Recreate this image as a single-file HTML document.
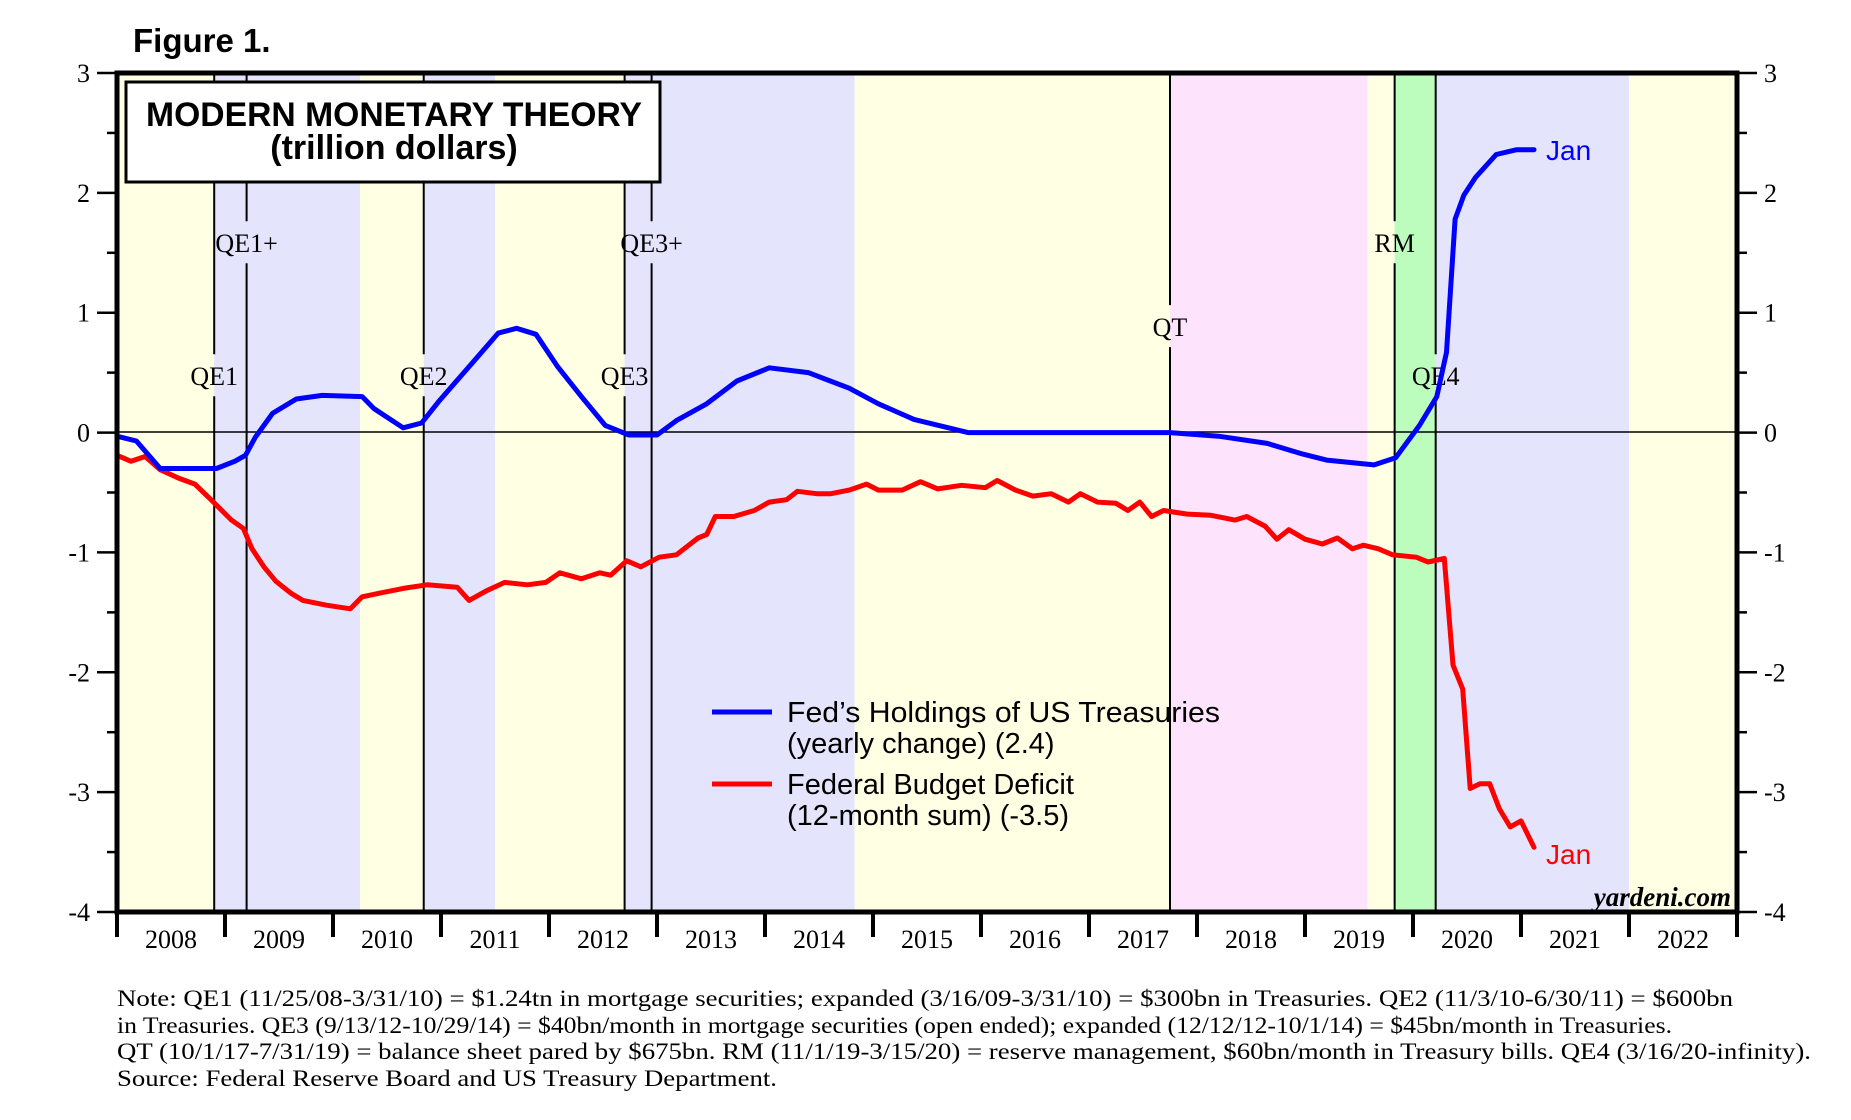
<!DOCTYPE html>
<html><head><meta charset="utf-8"><style>
html,body{margin:0;padding:0;background:#fff;}
svg{display:block;}
</style></head><body>
<svg id="chart" width="1851" height="1120" viewBox="0 0 1851 1120" xmlns="http://www.w3.org/2000/svg">
<g id="bands"></g>
<g id="vlines"></g>
<line x1="117" x2="1737" y1="432" y2="432" stroke="#000" stroke-width="1.5"/>
<g id="series"></g>
<g id="axes"></g>
<text x="133" y="52" font-family="Liberation Sans, sans-serif" font-weight="bold" font-size="33">Figure 1.</text>
<g>
<rect x="126" y="82" width="534" height="100" fill="#fff" stroke="#000" stroke-width="3"/>
<text x="146" y="126" textLength="496" lengthAdjust="spacingAndGlyphs" font-family="Liberation Sans, sans-serif" font-weight="bold" font-size="34">MODERN MONETARY THEORY</text>
<text x="394" y="159" text-anchor="middle" font-family="Liberation Sans, sans-serif" font-weight="bold" font-size="34">(trillion dollars)</text>
</g>
<g font-family="Liberation Sans, sans-serif" font-size="29">
<line x1="712" x2="772" y1="712" y2="712" stroke="#0000ff" stroke-width="5"/>
<text x="787" y="722" textLength="433" lengthAdjust="spacingAndGlyphs">Fed’s Holdings of US Treasuries</text>
<text x="787" y="753">(yearly change) (2.4)</text>
<line x1="712" x2="772" y1="784" y2="784" stroke="#ff0000" stroke-width="5"/>
<text x="787" y="794">Federal Budget Deficit</text>
<text x="787" y="825">(12-month sum) (-3.5)</text>
</g>
<text x="1546" y="160" fill="#0000ff" font-family="Liberation Sans, sans-serif" font-size="28">Jan</text>
<text x="1546" y="864" fill="#ff0000" font-family="Liberation Sans, sans-serif" font-size="28">Jan</text>
<text x="1731" y="906" text-anchor="end" font-family="Liberation Serif, serif" font-weight="bold" font-style="italic" font-size="27">yardeni.com</text>
<g font-family="Liberation Serif, serif" font-size="23.5">
<text x="117" y="1006" textLength="1616" lengthAdjust="spacingAndGlyphs">Note: QE1 (11/25/08-3/31/10) = $1.24tn in mortgage securities; expanded (3/16/09-3/31/10) = $300bn in Treasuries. QE2 (11/3/10-6/30/11) = $600bn</text>
<text x="117" y="1033" textLength="1555" lengthAdjust="spacingAndGlyphs">in Treasuries. QE3 (9/13/12-10/29/14) = $40bn/month in mortgage securities (open ended); expanded (12/12/12-10/1/14) = $45bn/month in Treasuries.</text>
<text x="117" y="1059" textLength="1694" lengthAdjust="spacingAndGlyphs">QT (10/1/17-7/31/19) = balance sheet pared by $675bn. RM (11/1/19-3/15/20) = reserve management, $60bn/month in Treasury bills. QE4 (3/16/20-infinity).</text>
<text x="117" y="1086" textLength="660" lengthAdjust="spacingAndGlyphs">Source: Federal Reserve Board and US Treasury Department.</text>
</g>
</svg>
<script>
const bandStarts = [2008, 2008.9, 2010.25, 2010.84, 2011.5, 2012.7, 2014.83, 2017.75, 2019.58, 2019.83, 2020.21, 2022.0];
const bandEnds   = [2008.9, 2010.25, 2010.84, 2011.5, 2012.7, 2014.83, 2017.75, 2019.58, 2019.83, 2020.21, 2022.0, 2023];
const bandKinds  = ['y','b','y','b','y','b','y','p','y','g','b','y'];
const eventDates = [2008.9, 2009.2, 2010.84, 2012.7, 2012.95, 2017.75, 2019.83, 2020.21];
const eventLabels = ['QE1','QE1+','QE2','QE3','QE3+','QT','RM','QE4'];
const eventLabelValues = [0.47, 1.58, 0.47, 0.47, 1.58, 0.88, 1.58, 0.47];
const yTicks = [3, 2, 1, 0, -1, -2, -3, -4];
const yearLabels = ['2008','2009','2010','2011','2012','2013','2014','2015','2016','2017','2018','2019','2020','2021','2022'];

const blueDates = [2008.0,2008.18,2008.4,2008.67,2008.92,2009.09,2009.19,2009.28,2009.44,2009.66,2009.9,2010.27,2010.38,2010.65,2010.82,2010.98,2011.26,2011.53,2011.7,2011.88,2012.08,2012.3,2012.52,2012.74,2013.0,2013.18,2013.46,2013.74,2014.04,2014.4,2014.78,2015.05,2015.38,2015.88,2016.5,2017.0,2017.75,2018.2,2018.65,2018.98,2019.2,2019.64,2019.84,2020.06,2020.22,2020.31,2020.39,2020.47,2020.58,2020.77,2020.96,2021.12];
const blueValues = [-0.03,-0.07,-0.3,-0.3,-0.3,-0.24,-0.19,-0.04,0.16,0.28,0.31,0.3,0.2,0.04,0.08,0.26,0.55,0.83,0.87,0.82,0.55,0.3,0.06,-0.02,-0.02,0.1,0.24,0.43,0.54,0.5,0.37,0.24,0.11,0.0,0.0,0.0,0.0,-0.03,-0.09,-0.18,-0.23,-0.27,-0.21,0.06,0.3,0.67,1.78,1.98,2.13,2.32,2.36,2.36];

const redDates = [2008.0,2008.13,2008.26,2008.4,2008.57,2008.72,2008.87,2009.06,2009.17,2009.25,2009.36,2009.47,2009.61,2009.72,2009.94,2010.16,2010.27,2010.43,2010.65,2010.87,2011.15,2011.26,2011.42,2011.59,2011.8,2011.97,2012.1,2012.3,2012.47,2012.57,2012.72,2012.85,2013.02,2013.18,2013.38,2013.46,2013.54,2013.71,2013.9,2014.04,2014.2,2014.3,2014.48,2014.61,2014.78,2014.94,2015.05,2015.27,2015.44,2015.6,2015.82,2016.04,2016.15,2016.32,2016.48,2016.65,2016.81,2016.92,2017.08,2017.25,2017.36,2017.47,2017.58,2017.69,2017.91,2018.13,2018.35,2018.46,2018.63,2018.74,2018.85,2019.0,2019.16,2019.3,2019.44,2019.54,2019.68,2019.81,2020.03,2020.14,2020.29,2020.37,2020.46,2020.53,2020.62,2020.71,2020.8,2020.9,2021.0,2021.12];
const redValues = [-0.19,-0.24,-0.2,-0.31,-0.38,-0.43,-0.56,-0.73,-0.8,-0.97,-1.12,-1.24,-1.34,-1.4,-1.44,-1.47,-1.37,-1.34,-1.3,-1.27,-1.29,-1.4,-1.32,-1.25,-1.27,-1.25,-1.17,-1.22,-1.17,-1.19,-1.07,-1.12,-1.04,-1.02,-0.88,-0.85,-0.7,-0.7,-0.65,-0.58,-0.56,-0.49,-0.51,-0.51,-0.48,-0.43,-0.48,-0.48,-0.41,-0.47,-0.44,-0.46,-0.4,-0.48,-0.53,-0.51,-0.58,-0.51,-0.58,-0.59,-0.65,-0.58,-0.7,-0.65,-0.68,-0.69,-0.73,-0.7,-0.78,-0.89,-0.81,-0.89,-0.93,-0.88,-0.97,-0.94,-0.97,-1.02,-1.04,-1.08,-1.05,-1.94,-2.14,-2.97,-2.93,-2.93,-3.14,-3.29,-3.24,-3.46];

const NS = 'http://www.w3.org/2000/svg';
const L = 117, R = 1737, T = 73, B = 912;
const X0 = 2008, X1 = 2023, Y0 = -4, Y1 = 3;
function xs(v){ return L + (v - X0) / (X1 - X0) * (R - L); }
function ys(v){ return B - (v - Y0) / (Y1 - Y0) * (B - T); }
function mk(tag, attrs, parent){ const e = document.createElementNS(NS, tag); for (const k in attrs) e.setAttribute(k, attrs[k]); parent.appendChild(e); return e; }
const colors = {y:'#ffffe4', b:'#e4e4fc', p:'#fde4fc', g:'#bcfcbc'};

const bands = document.getElementById('bands');
for (let i = 0; i < bandStarts.length; i++) {
  const r = mk('rect', {x: xs(bandStarts[i]), y: T, width: xs(bandEnds[i]) - xs(bandStarts[i]), height: B - T, fill: colors[bandKinds[i]]}, bands);
  
  
}
const vl = document.getElementById('vlines');
for (let i = 0; i < eventDates.length; i++) {
  const x = xs(eventDates[i]);
  const ly = ys(eventLabelValues[i]);
  const l1 = mk('line', {x1: x, x2: x, y1: T, y2: ly - 22, stroke: '#000', 'stroke-width': 2}, vl);
  
  
  const l2 = mk('line', {x1: x, x2: x, y1: ly + 20, y2: B, stroke: '#000', 'stroke-width': 2}, vl);
  
  
  const t = mk('text', {x: x, y: ly + 9, 'text-anchor': 'middle', 'font-family': 'Liberation Serif, serif', 'font-size': 26}, vl);
  t.textContent = eventLabels[i];
  
  
}
const series = document.getElementById('series');
function line(dates, vals, color, name){
  const pts = dates.map((d, i) => xs(d).toFixed(1) + ',' + ys(vals[i]).toFixed(1)).join(' ');
  const p = mk('polyline', {points: pts, fill: 'none', stroke: color, 'stroke-width': 5, 'stroke-linejoin': 'round', 'stroke-linecap': 'round'}, series);
  
  
}
line(redDates, redValues, '#ff0000', 'budget-deficit-line');
line(blueDates, blueValues, '#0000ff', 'fed-treasuries-line');

const ax = document.getElementById('axes');
const fr = mk('rect', {x: L, y: T, width: R - L, height: B - T, fill: 'none', stroke: '#000', 'stroke-width': 5}, ax);


for (let v = Y0; v <= Y1; v += 0.5) {
  const y = ys(v); const major = Number.isInteger(v);
  const a = mk('line', {x1: major ? 97 : 107, x2: L, y1: y, y2: y, stroke: '#000', 'stroke-width': 2.5}, ax);
  
  
  const b = mk('line', {x1: R, x2: major ? 1757 : 1747, y1: y, y2: y, stroke: '#000', 'stroke-width': 2.5}, ax);
  
  
}
yTicks.forEach(v => {
  const t1 = mk('text', {x: 90, y: ys(v) + 9, 'text-anchor': 'end', 'font-family': 'Liberation Serif, serif', 'font-size': 26}, ax);
  t1.textContent = String(v);
  
  
  const t2 = mk('text', {x: 1764, y: ys(v) + 9, 'font-family': 'Liberation Serif, serif', 'font-size': 26}, ax);
  t2.textContent = String(v);
  
  
});
for (let i = 0; i <= yearLabels.length; i++) {
  const x = xs(X0 + i);
  const tk = mk('line', {x1: x, x2: x, y1: B, y2: 937, stroke: '#000', 'stroke-width': 4}, ax);
  
  
  if (i < yearLabels.length) {
    const t = mk('text', {x: xs(X0 + i + 0.5), y: 948, 'text-anchor': 'middle', 'font-family': 'Liberation Serif, serif', 'font-size': 26}, ax);
    t.textContent = yearLabels[i];
    
    
  }
}
</script>
</body></html>
